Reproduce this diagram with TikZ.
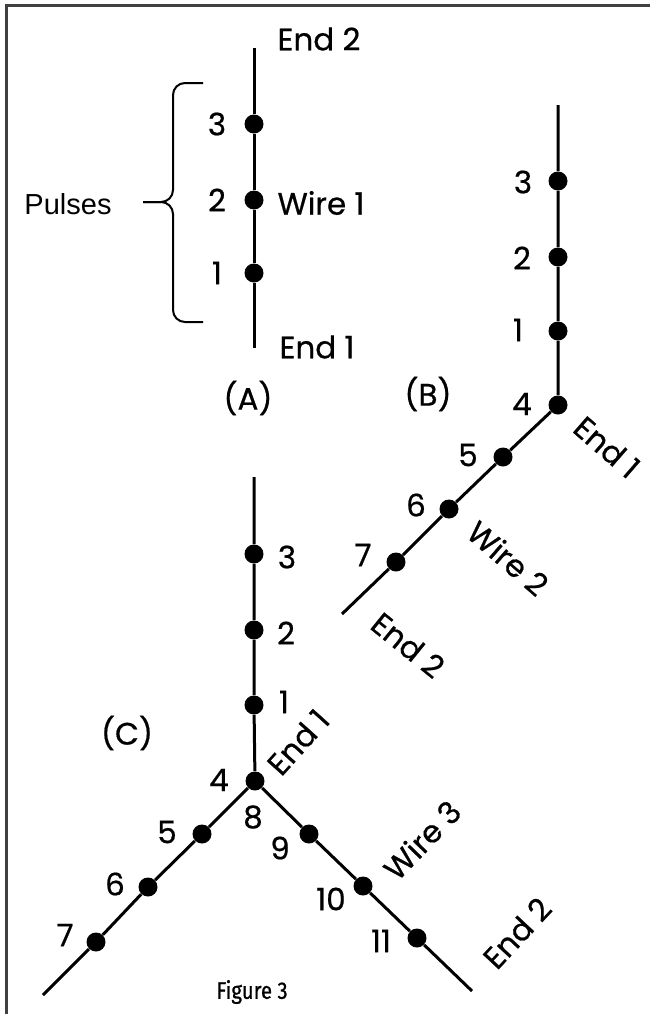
\documentclass[tikz,border=0pt]{standalone}
\usepackage{fontspec}
\setmainfont{Poppins}[FakeBold=0.6]
\newfontfamily\pulsefont{Liberation Sans}
\newfontfamily\capfont{Fira Sans}[FakeBold=0.8,FakeStretch=0.85]
\begin{document}
\begin{tikzpicture}[x=0.5pt,y=-0.5pt,
  wire/.style={line width=1.5pt},
  dot/.style={circle,fill,inner sep=0pt,minimum size=9.5pt},
  num/.style={inner sep=0pt,font=\fontsize{15.5}{17}\selectfont},
  tag/.style={inner sep=0pt,font=\fontsize{15.5}{17}\selectfont}]
  \useasboundingbox (0,0) rectangle (650,1014);
  % frame: only top and left edges are shown
  \draw[line width=1.5pt,black!75] (650,5) -- (6,5) -- (6,1014);

  % (A) one wire, three pulses
  \coordinate (Atop) at (254,48); \coordinate (Abot) at (254,348);
  \foreach \n/\y in {3/124,2/200,1/273} {
    \node[dot] (A\n) at (254,\y) {};
    \node[num] (lA\n) at (217,\y) {\n};
  }
  \draw[wire] (Atop) -- (A3) -- (A2) -- (A1) -- (Abot);
  \node[tag] (Aend2) at (319,39) {End 2};
  \node[tag] (Aend1) at (317,347) {End 1};
  \node[tag] (Awire) at (321,203) {Wire 1};
  \draw[line width=1pt,rounded corners=6pt] (203,83) -- (173,83) -- (173,202) -- (143,202);
  \draw[line width=1pt,rounded corners=6pt] (143,202) -- (173,202) -- (173,322) -- (203,322);
  \node[inner sep=0pt,font=\pulsefont\fontsize{14.5}{16}\selectfont] (pulses) at (68,204) {Pulses};
  \node[tag] (capA) at (248,398) {(A)};

  % (B) second wire joined at end 1
  \coordinate (Btop) at (558,105); \coordinate (Bend) at (342,614);
  \foreach \n/\x/\y/\lx/\ly in {3/558/181/523/182,2/558/257/522/258,1/558/331/518/330,
      4/558/405/522/404,5/503/457/468/455,6/449/509/416/505,7/396/562/363/555} {
    \node[dot] (B\n) at (\x,\y) {};
    \node[num] (lB\n) at (\lx,\ly) {\n};
  }
  \draw[wire] (Btop) -- (B3) -- (B2) -- (B1) -- (B4) -- (B5) -- (B6) -- (B7) -- (Bend);
  \node[tag,rotate=-41] (Bend1) at (607,447) {End 1};
  \node[tag,rotate=-41] (Bwire) at (508,558) {Wire 2};
  \node[tag,rotate=-39] (Bend2) at (408,645) {End 2};
  \node[tag] (capB) at (428,394) {(B)};

  % (C) third wire joined at the same point
  \coordinate (Ctop) at (254,477); \coordinate (Cleft) at (43,995); \coordinate (Cright) at (472,991);
  \foreach \n/\x/\y/\lx/\ly in {3/254/554/287/557,2/254/630/286/633,1/254/705/284/702,
      4/255/781/219/780,5/202/834/167/832,6/148/887/115/884,7/96/942/65/935,
      9/309/834/280/848,10/363/886/331/899,11/417/938/381/941} {
    \node[dot] (C\n) at (\x,\y) {};
    \node[num] (lC\n) at (\lx,\ly) {\n};
  }
  \node[num] (lC8) at (253,817) {8};
  \draw[wire] (Ctop) -- (C3) -- (C2) -- (C1) -- (C4) -- (C5) -- (C6) -- (C7) -- (Cleft);
  \draw[wire] (C4) -- (C9) -- (C10) -- (C11) -- (Cright);
  \node[tag,rotate=48] (Cend1) at (298,742) {End 1};
  \node[tag,rotate=46] (Cwire) at (422,840) {Wire 3};
  \node[tag,rotate=47] (Cend2) at (517,933) {End 2};
  \node[tag] (capC) at (127,733) {(C)};

  \node[inner sep=0pt,font=\capfont\fontsize{12}{14}\selectfont] (fig) at (252,992) {Figure 3};
\end{tikzpicture}
\end{document}
